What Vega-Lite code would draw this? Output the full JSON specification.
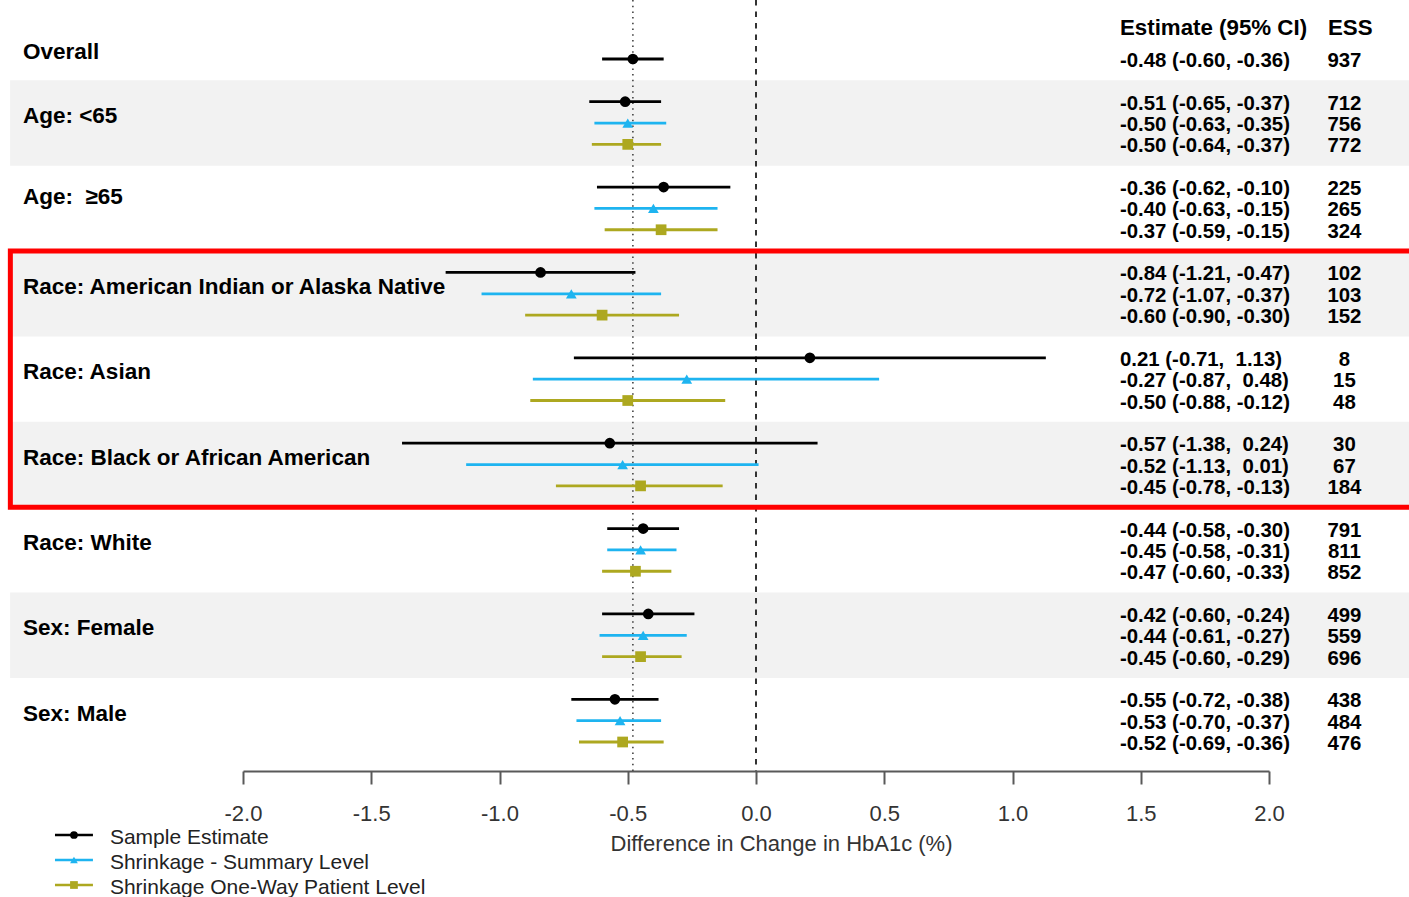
{
  "$schema": "https://vega.github.io/schema/vega-lite/v6.json",
  "width": 1409,
  "height": 771,
  "autosize": {"type": "none"},
  "padding": {"left": 0, "top": 0, "right": 0, "bottom": 126},
  "background": "white",
  "config": {
    "view": {"stroke": null},
    "font": "Liberation Sans",
    "axisX": {
      "domainColor": "#595959", "domainWidth": 2,
      "tickColor": "#595959", "tickWidth": 2, "tickSize": 13,
      "labelFont": "Liberation Sans", "labelFontSize": 22, "labelColor": "#333333",
      "labelPadding": 29, "labelBaseline": "middle", "labelFlush": false, "labelOverlap": false,
      "titleFont": "Liberation Sans", "titleFontSize": 22, "titleFontWeight": "normal", "titleColor": "#333333",
      "titleX": 781, "titleY": 72, "titleBaseline": "middle", "titleAlign": "center",
      "grid": false
    }
  },
  "resolve": {"scale": {"y": "independent"}},
  "datasets": {
    "main": [
      {"row": "ovr-S", "series": "Sample Estimate", "est": -0.48, "lo": -0.60, "hi": -0.36, "ci": "-0.48 (-0.60, -0.36)", "ess": "937"},
      {"row": "a1-S", "series": "Sample Estimate", "est": -0.51, "lo": -0.65, "hi": -0.37, "ci": "-0.51 (-0.65, -0.37)", "ess": "712"},
      {"row": "a1-B", "series": "Shrinkage - Summary Level", "est": -0.50, "lo": -0.63, "hi": -0.35, "ci": "-0.50 (-0.63, -0.35)", "ess": "756"},
      {"row": "a1-O", "series": "Shrinkage One-Way Patient Level", "est": -0.50, "lo": -0.64, "hi": -0.37, "ci": "-0.50 (-0.64, -0.37)", "ess": "772"},
      {"row": "a2-S", "series": "Sample Estimate", "est": -0.36, "lo": -0.62, "hi": -0.10, "ci": "-0.36 (-0.62, -0.10)", "ess": "225"},
      {"row": "a2-B", "series": "Shrinkage - Summary Level", "est": -0.40, "lo": -0.63, "hi": -0.15, "ci": "-0.40 (-0.63, -0.15)", "ess": "265"},
      {"row": "a2-O", "series": "Shrinkage One-Way Patient Level", "est": -0.37, "lo": -0.59, "hi": -0.15, "ci": "-0.37 (-0.59, -0.15)", "ess": "324"},
      {"row": "r1-S", "series": "Sample Estimate", "est": -0.84, "lo": -1.21, "hi": -0.47, "ci": "-0.84 (-1.21, -0.47)", "ess": "102"},
      {"row": "r1-B", "series": "Shrinkage - Summary Level", "est": -0.72, "lo": -1.07, "hi": -0.37, "ci": "-0.72 (-1.07, -0.37)", "ess": "103"},
      {"row": "r1-O", "series": "Shrinkage One-Way Patient Level", "est": -0.60, "lo": -0.90, "hi": -0.30, "ci": "-0.60 (-0.90, -0.30)", "ess": "152"},
      {"row": "r2-S", "series": "Sample Estimate", "est": 0.21, "lo": -0.71, "hi": 1.13, "ci": "\u00a00.21 (-0.71, \u00a01.13)", "ess": "8"},
      {"row": "r2-B", "series": "Shrinkage - Summary Level", "est": -0.27, "lo": -0.87, "hi": 0.48, "ci": "-0.27 (-0.87, \u00a00.48)", "ess": "15"},
      {"row": "r2-O", "series": "Shrinkage One-Way Patient Level", "est": -0.50, "lo": -0.88, "hi": -0.12, "ci": "-0.50 (-0.88, -0.12)", "ess": "48"},
      {"row": "r3-S", "series": "Sample Estimate", "est": -0.57, "lo": -1.38, "hi": 0.24, "ci": "-0.57 (-1.38, \u00a00.24)", "ess": "30"},
      {"row": "r3-B", "series": "Shrinkage - Summary Level", "est": -0.52, "lo": -1.13, "hi": 0.01, "ci": "-0.52 (-1.13, \u00a00.01)", "ess": "67"},
      {"row": "r3-O", "series": "Shrinkage One-Way Patient Level", "est": -0.45, "lo": -0.78, "hi": -0.13, "ci": "-0.45 (-0.78, -0.13)", "ess": "184"},
      {"row": "r4-S", "series": "Sample Estimate", "est": -0.44, "lo": -0.58, "hi": -0.30, "ci": "-0.44 (-0.58, -0.30)", "ess": "791"},
      {"row": "r4-B", "series": "Shrinkage - Summary Level", "est": -0.45, "lo": -0.58, "hi": -0.31, "ci": "-0.45 (-0.58, -0.31)", "ess": "811"},
      {"row": "r4-O", "series": "Shrinkage One-Way Patient Level", "est": -0.47, "lo": -0.60, "hi": -0.33, "ci": "-0.47 (-0.60, -0.33)", "ess": "852"},
      {"row": "s1-S", "series": "Sample Estimate", "est": -0.42, "lo": -0.60, "hi": -0.24, "ci": "-0.42 (-0.60, -0.24)", "ess": "499"},
      {"row": "s1-B", "series": "Shrinkage - Summary Level", "est": -0.44, "lo": -0.61, "hi": -0.27, "ci": "-0.44 (-0.61, -0.27)", "ess": "559"},
      {"row": "s1-O", "series": "Shrinkage One-Way Patient Level", "est": -0.45, "lo": -0.60, "hi": -0.29, "ci": "-0.45 (-0.60, -0.29)", "ess": "696"},
      {"row": "s2-S", "series": "Sample Estimate", "est": -0.55, "lo": -0.72, "hi": -0.38, "ci": "-0.55 (-0.72, -0.38)", "ess": "438"},
      {"row": "s2-B", "series": "Shrinkage - Summary Level", "est": -0.53, "lo": -0.70, "hi": -0.37, "ci": "-0.53 (-0.70, -0.37)", "ess": "484"},
      {"row": "s2-O", "series": "Shrinkage One-Way Patient Level", "est": -0.52, "lo": -0.69, "hi": -0.36, "ci": "-0.52 (-0.69, -0.36)", "ess": "476"}
    ],
    "labels": [
      {"row": "ovr-S", "label": "Overall"},
      {"row": "a1-B", "label": "Age: <65"},
      {"row": "a2-B", "label": "Age:\u00a0 ≥65"},
      {"row": "r1-B", "label": "Race: American Indian or Alaska Native"},
      {"row": "r2-B", "label": "Race: Asian"},
      {"row": "r3-B", "label": "Race: Black or African American"},
      {"row": "r4-B", "label": "Race: White"},
      {"row": "s1-B", "label": "Sex: Female"},
      {"row": "s2-B", "label": "Sex: Male"}
    ],
    "headers": [
      {"row": "ovr-S", "label": "Estimate (95% CI)", "col": "ci"},
      {"row": "ovr-S", "label": "ESS", "col": "ess"}
    ],
    "bands": [
      {"row": "gap1", "row2": "gap2"},
      {"row": "gap3", "row2": "gap4"},
      {"row": "gap5", "row2": "gap6"},
      {"row": "gap7", "row2": "gap8"}
    ],
    "boxes": [
      {"row": "gap3", "row2": "gap6"}
    ],
    "legend": [
      {"series": "Sample Estimate"},
      {"series": "Shrinkage - Summary Level"},
      {"series": "Shrinkage One-Way Patient Level"}
    ]
  },
  "layer": [
    {
      "data": {"name": "bands"},
      "mark": {"type": "rect", "color": "#f2f2f2"},
      "encoding": {
        "y": {"field": "row", "type": "ordinal", "axis": null, "scale": {"type": "point", "padding": 0, "range": [59, 742], "domain": ["ovr-S","gap1","a1-S","a1-B","a1-O","gap2","a2-S","a2-B","a2-O","gap3","r1-S","r1-B","r1-O","gap4","r2-S","r2-B","r2-O","gap5","r3-S","r3-B","r3-O","gap6","r4-S","r4-B","r4-O","gap7","s1-S","s1-B","s1-O","gap8","s2-S","s2-B","s2-O"]}},
        "y2": {"field": "row2"},
        "x": {"datum": -2.908, "type": "quantitative", "scale": {"domain": [-2, 2], "range": [243, 1269], "nice": false, "zero": false}},
        "x2": {"datum": 2.6}
      }
    },
    {
      "data": {"name": "main"},
      "transform": [{"filter": "datum.row === 'ovr-S'"}],
      "layer": [
        {
          "mark": {"type": "rule", "color": "#444444", "strokeWidth": 1.6, "strokeDash": [1.5, 4.2]},
          "encoding": {"x": {"field": "est", "type": "quantitative", "scale": {"domain": [-2, 2], "range": [243, 1269], "nice": false, "zero": false}}}
        },
        {
          "mark": {"type": "rule", "color": "#333333", "strokeWidth": 2, "strokeDash": [5.5, 6]},
          "encoding": {"x": {"datum": 0, "type": "quantitative", "scale": {"domain": [-2, 2], "range": [243, 1269], "nice": false, "zero": false}}}
        }
      ]
    },
    {
      "encoding": {
        "y": {"field": "row", "type": "ordinal", "axis": null, "scale": {"type": "point", "padding": 0, "range": [59, 742], "domain": ["ovr-S","gap1","a1-S","a1-B","a1-O","gap2","a2-S","a2-B","a2-O","gap3","r1-S","r1-B","r1-O","gap4","r2-S","r2-B","r2-O","gap5","r3-S","r3-B","r3-O","gap6","r4-S","r4-B","r4-O","gap7","s1-S","s1-B","s1-O","gap8","s2-S","s2-B","s2-O"]}}
      },
      "layer": [
        {
          "data": {"name": "main"},
          "mark": {"type": "rule", "strokeWidth": 2.8},
          "encoding": {
            "x": {"field": "lo", "type": "quantitative", "scale": {"domain": [-2, 2], "range": [243, 1269], "nice": false, "zero": false},
                  "axis": {"title": "Difference in Change in HbA1c (%)", "values": [-2, -1.5, -1, -0.5, 0, 0.5, 1, 1.5, 2], "labelExpr": "replace(format(datum.value, '.1f'), '\u2212', '-')", "grid": false}},
            "x2": {"field": "hi"},
            "stroke": {"field": "series", "type": "nominal", "legend": null,
                      "scale": {"domain": ["Sample Estimate", "Shrinkage - Summary Level", "Shrinkage One-Way Patient Level"], "range": ["#000000", "#1EB4F0", "#ADA820"]}}
          }
        },
        {
          "data": {"name": "main"},
          "mark": {"type": "point", "filled": true, "opacity": 1, "size": 115},
          "encoding": {
            "x": {"field": "est", "type": "quantitative", "scale": {"domain": [-2, 2], "range": [243, 1269], "nice": false, "zero": false}},
            "color": {"field": "series", "type": "nominal", "legend": null,
                      "scale": {"domain": ["Sample Estimate", "Shrinkage - Summary Level", "Shrinkage One-Way Patient Level"], "range": ["#000000", "#1EB4F0", "#ADA820"]}},
            "shape": {"field": "series", "type": "nominal", "legend": null,
                      "scale": {"domain": ["Sample Estimate", "Shrinkage - Summary Level", "Shrinkage One-Way Patient Level"], "range": ["circle", "triangle-up", "square"]}}
          }
        },
        {
          "data": {"name": "labels"},
          "transform": [{"filter": "datum.row !== 'a2-B'"}],
          "mark": {"type": "text", "font": "Liberation Sans", "fontWeight": "bold", "fontSize": 22.5, "align": "left", "baseline": "middle", "dy": -7, "color": "#000000"},
          "encoding": {
            "x": {"datum": -2.858, "type": "quantitative", "scale": {"domain": [-2, 2], "range": [243, 1269], "nice": false, "zero": false}},
            "text": {"field": "label"}
          }
        },
        {
          "data": {"name": "labels"},
          "transform": [{"filter": "datum.row === 'a2-B'"}],
          "mark": {"type": "text", "font": "Liberation Sans", "fontWeight": "bold", "fontSize": 22.5, "align": "left", "baseline": "middle", "dy": -11, "color": "#000000"},
          "encoding": {
            "x": {"datum": -2.858, "type": "quantitative", "scale": {"domain": [-2, 2], "range": [243, 1269], "nice": false, "zero": false}},
            "text": {"field": "label"}
          }
        },
        {
          "data": {"name": "main"},
          "mark": {"type": "text", "font": "Liberation Sans", "fontWeight": "bold", "fontSize": 20.4, "align": "left", "baseline": "middle", "dy": 2, "color": "#000000"},
          "encoding": {
            "x": {"datum": 1.419, "type": "quantitative", "scale": {"domain": [-2, 2], "range": [243, 1269], "nice": false, "zero": false}},
            "text": {"field": "ci"}
          }
        },
        {
          "data": {"name": "main"},
          "mark": {"type": "text", "font": "Liberation Sans", "fontWeight": "bold", "fontSize": 20.4, "align": "center", "baseline": "middle", "dy": 2, "color": "#000000"},
          "encoding": {
            "x": {"datum": 2.294, "type": "quantitative", "scale": {"domain": [-2, 2], "range": [243, 1269], "nice": false, "zero": false}},
            "text": {"field": "ess"}
          }
        },
        {
          "data": {"name": "headers"},
          "transform": [{"filter": "datum.col === 'ci'"}],
          "mark": {"type": "text", "font": "Liberation Sans", "fontWeight": "bold", "fontSize": 22.3, "align": "left", "baseline": "middle", "dy": -31, "color": "#000000"},
          "encoding": {
            "x": {"datum": 1.419, "type": "quantitative", "scale": {"domain": [-2, 2], "range": [243, 1269], "nice": false, "zero": false}},
            "text": {"field": "label"}
          }
        },
        {
          "data": {"name": "headers"},
          "transform": [{"filter": "datum.col === 'ess'"}],
          "mark": {"type": "text", "font": "Liberation Sans", "fontWeight": "bold", "fontSize": 22.3, "align": "left", "baseline": "middle", "dy": -31, "color": "#000000"},
          "encoding": {
            "x": {"datum": 2.23, "type": "quantitative", "scale": {"domain": [-2, 2], "range": [243, 1269], "nice": false, "zero": false}},
            "text": {"field": "label"}
          }
        },
        {
          "data": {"name": "boxes"},
          "mark": {"type": "rect", "fill": "transparent", "stroke": "#ff0000", "strokeWidth": 5},
          "encoding": {
            "y2": {"field": "row2"},
            "x": {"datum": -2.907, "type": "quantitative", "scale": {"domain": [-2, 2], "range": [243, 1269], "nice": false, "zero": false}},
            "x2": {"datum": 2.6}
          }
        }
      ]
    },
    {
      "data": {"name": "legend"},
      "encoding": {
        "y": {"field": "series", "type": "nominal", "axis": null,
              "scale": {"type": "point", "padding": 0, "range": [835, 885], "domain": ["Sample Estimate", "Shrinkage - Summary Level", "Shrinkage One-Way Patient Level"]}}
      },
      "layer": [
        {
          "mark": {"type": "rule", "strokeWidth": 2.5},
          "encoding": {
            "x": {"datum": -2.733, "type": "quantitative", "scale": {"domain": [-2, 2], "range": [243, 1269], "nice": false, "zero": false}},
            "x2": {"datum": -2.585},
            "stroke": {"field": "series", "type": "nominal", "legend": null,
                      "scale": {"domain": ["Sample Estimate", "Shrinkage - Summary Level", "Shrinkage One-Way Patient Level"], "range": ["#000000", "#1EB4F0", "#ADA820"]}}
          }
        },
        {
          "mark": {"type": "point", "filled": true, "opacity": 1, "size": 60},
          "encoding": {
            "x": {"datum": -2.659, "type": "quantitative", "scale": {"domain": [-2, 2], "range": [243, 1269], "nice": false, "zero": false}},
            "color": {"field": "series", "type": "nominal", "legend": null,
                      "scale": {"domain": ["Sample Estimate", "Shrinkage - Summary Level", "Shrinkage One-Way Patient Level"], "range": ["#000000", "#1EB4F0", "#ADA820"]}},
            "shape": {"field": "series", "type": "nominal", "legend": null,
                      "scale": {"domain": ["Sample Estimate", "Shrinkage - Summary Level", "Shrinkage One-Way Patient Level"], "range": ["circle", "triangle-up", "square"]}}
          }
        },
        {
          "mark": {"type": "text", "font": "Liberation Sans", "fontSize": 21, "align": "left", "baseline": "middle", "dy": 2.5, "color": "#222222"},
          "encoding": {
            "x": {"datum": -2.519, "type": "quantitative", "scale": {"domain": [-2, 2], "range": [243, 1269], "nice": false, "zero": false}},
            "text": {"field": "series"}
          }
        }
      ]
    }
  ]
}
